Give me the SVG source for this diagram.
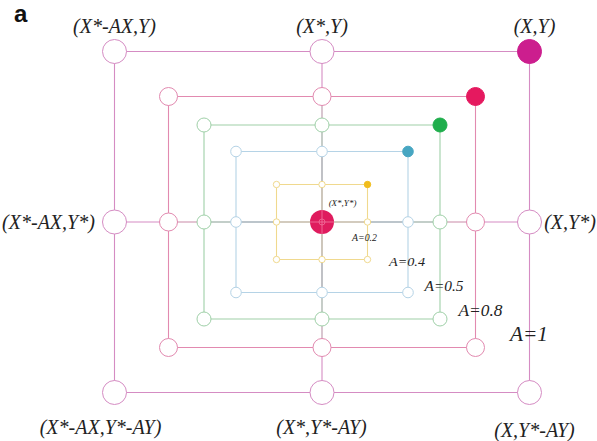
<svg xmlns="http://www.w3.org/2000/svg" width="597" height="441" viewBox="0 0 597 441">
<style>
.lbl{font-family:"Liberation Serif","Times New Roman",serif;font-style:italic;fill:#222;text-anchor:middle}
.n circle{fill:#fff;stroke-width:1}
.s1{stroke:#d58cc3}.s2{stroke:#e28ab0}.s3{stroke:#9fd0a8}.s4{stroke:#b5d3e6}.s5{stroke:#f0d98e}
#connectors line{stroke-width:1.1;fill:none}
</style>
<rect width="597" height="441" fill="#fff"/>
<text x="14" y="22" font-family="Liberation Sans,Arial,sans-serif" font-weight="bold" font-size="24" fill="#111">a</text>
<g id="connectors">
  <g class="s1"><line x1="114.5" y1="51.5" x2="529.5" y2="51.5"/><line x1="529.5" y1="51.5" x2="529.5" y2="392.5"/><line x1="114.5" y1="392.5" x2="529.5" y2="392.5"/><line x1="114.5" y1="51.5" x2="114.5" y2="392.5"/></g>
  <g class="s2"><line x1="168.5" y1="96.5" x2="475.5" y2="96.5"/><line x1="475.5" y1="96.5" x2="475.5" y2="347.5"/><line x1="168.5" y1="347.5" x2="475.5" y2="347.5"/><line x1="168.5" y1="96.5" x2="168.5" y2="347.5"/></g>
  <g class="s3"><line x1="204" y1="125" x2="440" y2="125"/><line x1="440" y1="125" x2="440" y2="319"/><line x1="204" y1="319" x2="440" y2="319"/><line x1="204" y1="125" x2="204" y2="319"/></g>
  <g class="s4"><line x1="236" y1="151.5" x2="408" y2="151.5"/><line x1="408" y1="151.5" x2="408" y2="292.5"/><line x1="236" y1="292.5" x2="408" y2="292.5"/><line x1="236" y1="151.5" x2="236" y2="292.5"/></g>
  <g class="s5"><line x1="276.5" y1="184.5" x2="367.5" y2="184.5"/><line x1="367.5" y1="184.5" x2="367.5" y2="259.5"/><line x1="276.5" y1="259.5" x2="367.5" y2="259.5"/><line x1="276.5" y1="184.5" x2="276.5" y2="259.5"/></g>
  <line x1="114.5" y1="222" x2="168.5" y2="222" stroke="#d58cc3"/>
  <line x1="168.5" y1="222" x2="204" y2="222" stroke="#c98aa8"/>
  <line x1="204" y1="222" x2="236" y2="222" stroke="#93a79d"/>
  <line x1="236" y1="222" x2="276.5" y2="222" stroke="#7b8b97"/>
  <line x1="276.5" y1="222" x2="367.5" y2="222" stroke="#a8977e"/>
  <line x1="367.5" y1="222" x2="408" y2="222" stroke="#7b8b97"/>
  <line x1="408" y1="222" x2="440" y2="222" stroke="#93a79d"/>
  <line x1="440" y1="222" x2="475.5" y2="222" stroke="#c98aa8"/>
  <line x1="475.5" y1="222" x2="529.5" y2="222" stroke="#d58cc3"/>
  <line x1="322" y1="51.5" x2="322" y2="96.5" stroke="#d58cc3"/>
  <line x1="322" y1="96.5" x2="322" y2="125" stroke="#b997aa"/>
  <line x1="322" y1="125" x2="322" y2="151.5" stroke="#98a49c"/>
  <line x1="322" y1="151.5" x2="322" y2="184.5" stroke="#8c8f96"/>
  <line x1="322" y1="184.5" x2="322" y2="259.5" stroke="#a59884"/>
  <line x1="322" y1="259.5" x2="322" y2="292.5" stroke="#8c8f96"/>
  <line x1="322" y1="292.5" x2="322" y2="319" stroke="#98a49c"/>
  <line x1="322" y1="319" x2="322" y2="347.5" stroke="#b997aa"/>
  <line x1="322" y1="347.5" x2="322" y2="392.5" stroke="#d58cc3"/>
</g>
<g id="square-A1" class="n s1">
  <g id="n1-tl"><circle cx="114.5" cy="51.5" r="12"/></g>
  <g id="n1-tm"><circle cx="322" cy="51.5" r="12"/></g>
  <g id="n1-tr"><circle cx="529.5" cy="51.5" r="12" style="fill:#cc1e8e;stroke:#cc1e8e"/></g>
  <g id="n1-ml"><circle cx="114.5" cy="222" r="12"/></g>
  <g id="n1-mr"><circle cx="529.5" cy="222" r="12"/></g>
  <g id="n1-bl"><circle cx="114.5" cy="392.5" r="12"/></g>
  <g id="n1-bm"><circle cx="322" cy="392.5" r="12"/></g>
  <g id="n1-br"><circle cx="529.5" cy="392.5" r="12"/></g>
</g>
<g id="square-A08" class="n s2">
  <g id="n2-tl"><circle cx="168.5" cy="96.5" r="9"/></g>
  <g id="n2-tm"><circle cx="322" cy="96.5" r="9"/></g>
  <g id="n2-tr"><circle cx="475.5" cy="96.5" r="9" style="fill:#e5195f;stroke:#e5195f"/></g>
  <g id="n2-ml"><circle cx="168.5" cy="222" r="9"/></g>
  <g id="n2-mr"><circle cx="475.5" cy="222" r="9"/></g>
  <g id="n2-bl"><circle cx="168.5" cy="347.5" r="9"/></g>
  <g id="n2-bm"><circle cx="322" cy="347.5" r="9"/></g>
  <g id="n2-br"><circle cx="475.5" cy="347.5" r="9"/></g>
</g>
<g id="square-A05" class="n s3">
  <g id="n3-tl"><circle cx="204" cy="125" r="7"/></g>
  <g id="n3-tm"><circle cx="322" cy="125" r="7"/></g>
  <g id="n3-tr"><circle cx="440" cy="125" r="7" style="fill:#1fae4c;stroke:#1fae4c"/></g>
  <g id="n3-ml"><circle cx="204" cy="222" r="7"/></g>
  <g id="n3-mr"><circle cx="440" cy="222" r="7"/></g>
  <g id="n3-bl"><circle cx="204" cy="319" r="7"/></g>
  <g id="n3-bm"><circle cx="322" cy="319" r="7"/></g>
  <g id="n3-br"><circle cx="440" cy="319" r="7"/></g>
</g>
<g id="square-A04" class="n s4">
  <g id="n4-tl"><circle cx="236" cy="151.5" r="5.3"/></g>
  <g id="n4-tm"><circle cx="322" cy="151.5" r="5.3"/></g>
  <g id="n4-tr"><circle cx="408" cy="151.5" r="5.3" style="fill:#47a6c2;stroke:#47a6c2"/></g>
  <g id="n4-ml"><circle cx="236" cy="222" r="5.3"/></g>
  <g id="n4-mr"><circle cx="408" cy="222" r="5.3"/></g>
  <g id="n4-bl"><circle cx="236" cy="292.5" r="5.3"/></g>
  <g id="n4-bm"><circle cx="322" cy="292.5" r="5.3"/></g>
  <g id="n4-br"><circle cx="408" cy="292.5" r="5.3"/></g>
</g>
<g id="square-A02" class="n s5">
  <g id="n5-tl"><circle cx="276.5" cy="184.5" r="3.2"/></g>
  <g id="n5-tm"><circle cx="322" cy="184.5" r="3.2"/></g>
  <g id="n5-tr"><circle cx="367.5" cy="184.5" r="3.2" style="fill:#f1bd1c;stroke:#f1bd1c"/></g>
  <g id="n5-ml"><circle cx="276.5" cy="222" r="3.2"/></g>
  <g id="n5-mr"><circle cx="367.5" cy="222" r="3.2"/></g>
  <g id="n5-bl"><circle cx="276.5" cy="259.5" r="3.2"/></g>
  <g id="n5-bm"><circle cx="322" cy="259.5" r="3.2"/></g>
  <g id="n5-br"><circle cx="367.5" cy="259.5" r="3.2"/></g>
</g>
<g id="center">
  <circle cx="322" cy="222" r="12" fill="#df1c5e"/>
  <line x1="310" y1="222" x2="334" y2="222" stroke="#f27aa2" stroke-width="0.8"/>
  <line x1="322" y1="210" x2="322" y2="234" stroke="#f27aa2" stroke-width="0.8"/>
  <circle cx="322" cy="222" r="3" fill="none" stroke="#f27aa2" stroke-width="0.7"/>
</g>
<g id="labels">
  <text class="lbl" x="114.5" y="33" font-size="20">(X*-AX,Y)</text>
  <text class="lbl" x="322" y="33" font-size="20">(X*,Y)</text>
  <text class="lbl" x="534.5" y="33" font-size="20">(X,Y)</text>
  <text class="lbl" x="48.5" y="229" font-size="20">(X*-AX,Y*)</text>
  <text class="lbl" x="570" y="229" font-size="20">(X,Y*)</text>
  <text class="lbl" x="100.5" y="434" font-size="20">(X*-AX,Y*-AY)</text>
  <text class="lbl" x="321.5" y="434" font-size="20">(X*,Y*-AY)</text>
  <text class="lbl" x="534.5" y="437" font-size="20">(X,Y*-AY)</text>
  <text class="lbl" x="342.5" y="206" font-size="9">(X*,Y*)</text>
  <text class="lbl" x="364.5" y="241" font-size="10" textLength="25" lengthAdjust="spacingAndGlyphs">A=0.2</text>
  <text class="lbl" x="407" y="266" font-size="13.5" textLength="36" lengthAdjust="spacingAndGlyphs">A=0.4</text>
  <text class="lbl" x="444" y="291" font-size="15.5" textLength="39" lengthAdjust="spacingAndGlyphs">A=0.5</text>
  <text class="lbl" x="480.5" y="316" font-size="17" textLength="44" lengthAdjust="spacingAndGlyphs">A=0.8</text>
  <text class="lbl" x="529" y="341" font-size="20" textLength="38" lengthAdjust="spacingAndGlyphs">A=1</text>
</g>
</svg>
